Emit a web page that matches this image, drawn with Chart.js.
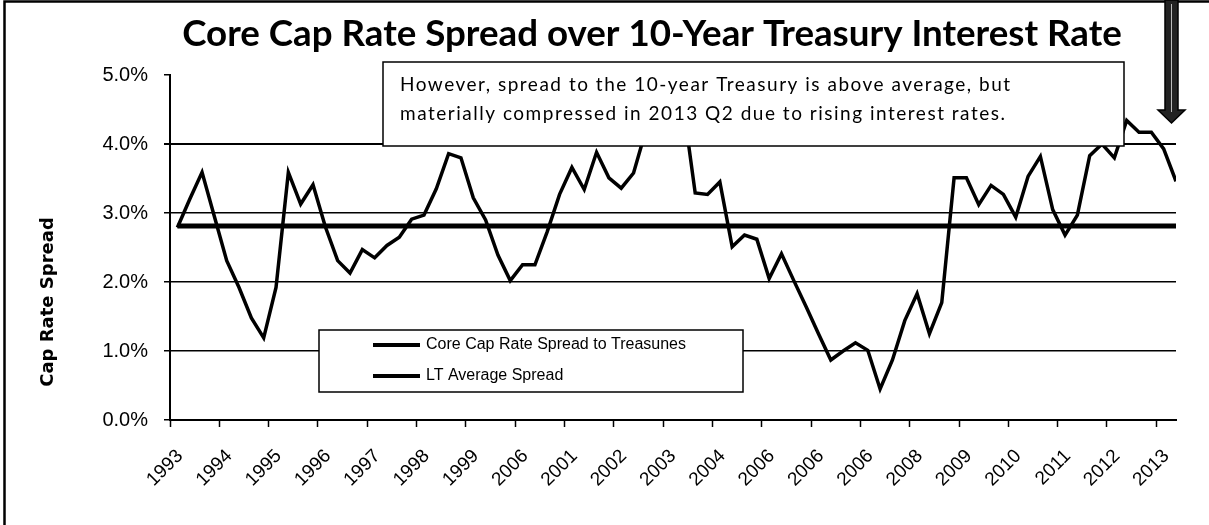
<!DOCTYPE html>
<html>
<head>
<meta charset="utf-8">
<script src="https://cdn.jsdelivr.net/npm/chart.js@4.4.1/dist/chart.umd.min.js"></script>
<style>
  html, body { margin: 0; padding: 0; background: #fff; }
  #wrap { width: 1209px; height: 525px; }
</style>
</head>
<body>
<div id="wrap"><canvas id="spreadChart" width="1209" height="525"></canvas></div>
<script>
// year labels under every fourth quarter
const yearLabels = ['1993', '1994', '1995', '1996', '1997', '1998', '1999', '2006', '2001', '2002', '2003',
  '2004', '2006', '2006', '2006', '2008', '2009', '2010', '2011', '2012', '2013'];

// quarterly core cap rate spread over the 10-year treasury, 1993 Q1 .. 2013 Q2 (percent)
const capRateSpread = [
  2.79, 3.20, 3.59, 2.95, 2.31, 1.92, 1.48, 1.19,
  1.92, 3.59, 3.13, 3.41, 2.80, 2.31, 2.13, 2.47,
  2.35, 2.53, 2.65, 2.91, 2.97, 3.35, 3.86, 3.80,
  3.22, 2.90, 2.39, 2.02, 2.25, 2.25, 2.73, 3.27,
  3.66, 3.34, 3.88, 3.51, 3.36, 3.58, 4.20, 4.50,
  4.40, 4.60, 3.29, 3.27, 3.45, 2.51, 2.68, 2.62,
  2.05, 2.41, 2.02, 1.64, 1.25, 0.87, 1.00, 1.12,
  1.01, 0.45, 0.87, 1.44, 1.83, 1.25, 1.70, 3.51,
  3.51, 3.12, 3.40, 3.27, 2.94, 3.53, 3.82, 3.05,
  2.68, 2.97, 3.83, 4.00, 3.80, 4.34, 4.17, 4.17,
  3.93, 3.46
];
const ltAverageSpread = 2.81;
const yTickValues = [0, 1, 2, 3, 4, 5];

const chartTitle = 'Core Cap Rate Spread over 10-Year Treasury Interest Rate';
const yAxisTitle = 'Cap Rate Spread';
const seriesNames = ['Core Cap Rate Spread to Treasunes', 'LT Average Spread'];
const noteLines = [
  'However, spread to the 10-year Treasury is above average, but',
  'materially compressed in 2013 Q2 due to rising interest rates.'
];

const quarterOffset = 0.6;
const spreadPoints = capRateSpread.map((v, i) => ({ x: i + quarterOffset, y: v }));
const averagePoints = capRateSpread.map((v, i) => ({ x: i + quarterOffset, y: ltAverageSpread }));

const fitFont = (ctx, text, weight, family, width) => {
  ctx.font = weight + ' 20px ' + family;
  return 20 * width / ctx.measureText(text).width;
};

const pagePlugin = {
  id: 'page',
  beforeDraw(chart) {
    const ctx = chart.ctx;
    ctx.save();
    ctx.fillStyle = '#fff';
    ctx.fillRect(0, 0, chart.width, chart.height);
    // frame round the slide
    ctx.strokeStyle = '#000';
    ctx.lineWidth = 2.5;
    ctx.beginPath();
    ctx.moveTo(4.5, chart.height);
    ctx.lineTo(4.5, 1.5);
    ctx.lineTo(chart.width, 1.5);
    ctx.stroke();
    ctx.restore();
  },
  afterDraw(chart) {
    const ctx = chart.ctx;
    ctx.save();

    // title
    let size = fitFont(ctx, chartTitle, 'bold', 'Lato', 940);
    ctx.font = 'bold ' + size + 'px Lato';
    ctx.fillStyle = '#000';
    ctx.textAlign = 'center';
    ctx.textBaseline = 'alphabetic';
    ctx.fillText(chartTitle, 652, 46);

    // y axis title
    ctx.save();
    ctx.translate(48, 302);
    ctx.rotate(-Math.PI / 2);
    ctx.font = 'bold 18px "DejaVu Sans"';
    ctx.textBaseline = 'middle';
    ctx.fillText(yAxisTitle, 0, 0);
    ctx.restore();

    // note box over the line
    ctx.fillStyle = '#fff';
    ctx.fillRect(383, 62, 741, 84);
    ctx.strokeStyle = '#000';
    ctx.lineWidth = 1.5;
    ctx.strokeRect(383, 62, 741, 84);
    ctx.font = '19px Lato';
    ctx.fillStyle = '#000';
    ctx.textAlign = 'left';
    const natural = ctx.measureText(noteLines[0]).width;
    ctx.letterSpacing = Math.max(0, (610 - natural) / (noteLines[0].length - 1)).toFixed(2) + 'px';
    ctx.fillText(noteLines[0], 400, 91);
    ctx.fillText(noteLines[1], 400, 120);
    ctx.letterSpacing = '0px';

    // legend
    ctx.fillStyle = '#fff';
    ctx.fillRect(319, 330, 424, 62);
    ctx.strokeRect(319, 330, 424, 62);
    ctx.font = '16px "Liberation Sans"';
    ctx.textBaseline = 'middle';
    chart.data.datasets.forEach((ds, k) => {
      const y = 345 + k * 31;
      ctx.strokeStyle = '#000';
      ctx.lineWidth = 4;
      ctx.beginPath();
      ctx.moveTo(373, y);
      ctx.lineTo(420, y);
      ctx.stroke();
      ctx.fillStyle = '#000';
      ctx.fillText(ds.label, 426, y);
    });

    // down arrow, top right
    ctx.beginPath();
    ctx.moveTo(1165, 0);
    ctx.lineTo(1178, 0);
    ctx.lineTo(1178, 110);
    ctx.lineTo(1185, 110);
    ctx.lineTo(1171.5, 123);
    ctx.lineTo(1158, 110);
    ctx.lineTo(1165, 110);
    ctx.closePath();
    ctx.fillStyle = '#222';
    ctx.fill();
    ctx.lineWidth = 1.5;
    ctx.strokeStyle = '#000';
    ctx.stroke();
    ctx.strokeStyle = '#bbb';
    ctx.lineWidth = 1;
    ctx.beginPath();
    ctx.moveTo(1171.5, 4);
    ctx.lineTo(1171.5, 112);
    ctx.stroke();

    ctx.restore();
  }
};

new Chart(document.getElementById('spreadChart'), {
  type: 'line',
  data: {
    datasets: [
      {
        label: seriesNames[0],
        data: spreadPoints,
        borderColor: '#000',
        borderWidth: 3.5,
        pointRadius: 0,
        tension: 0
      },
      {
        label: seriesNames[1],
        data: averagePoints,
        borderColor: '#000',
        borderWidth: 5,
        pointRadius: 0,
        tension: 0
      }
    ]
  },
  options: {
    responsive: false,
    animation: false,
    devicePixelRatio: 1,
    layout: { padding: { top: 75, right: 33, left: 0, bottom: 0 } },
    plugins: {
      legend: { display: false },
      title: { display: false },
      tooltip: { enabled: false }
    },
    scales: {
      x: {
        type: 'linear',
        min: 0,
        max: 81.6,
        afterFit: (s) => { s.height = 105; },
        afterBuildTicks: (s) => { s.ticks = yearLabels.map((y, k) => ({ value: k * 4 })); },
        grid: { drawOnChartArea: false, tickLength: 7, tickColor: '#000', tickWidth: 1.5 },
        border: { color: '#000', width: 2 },
        ticks: {
          autoSkip: false,
          minRotation: 45,
          maxRotation: 45,
          padding: 18,
          labelOffset: 10,
          color: '#000',
          font: { family: 'Liberation Sans', size: 19 },
          callback: (v) => yearLabels[v / 4]
        }
      },
      y: {
        min: 0,
        max: 5,
        afterFit: (s) => { s.width = 170; },
        afterBuildTicks: (s) => { s.ticks = yTickValues.map((v) => ({ value: v })); },
        grid: {
          color: (c) => (c.tick && c.tick.value === 5 ? 'rgba(0,0,0,0)' : '#000'),
          lineWidth: (c) => (c.tick && c.tick.value === 4 ? 2 : 1.5),
          tickLength: 6,
          tickColor: '#000'
        },
        border: { color: '#000', width: 2 },
        ticks: {
          padding: 16,
          color: '#000',
          font: { family: 'Liberation Sans', size: 20 },
          callback: (v) => v.toFixed(1) + '%'
        }
      }
    }
  },
  plugins: [pagePlugin]
});
</script>
</body>
</html>
